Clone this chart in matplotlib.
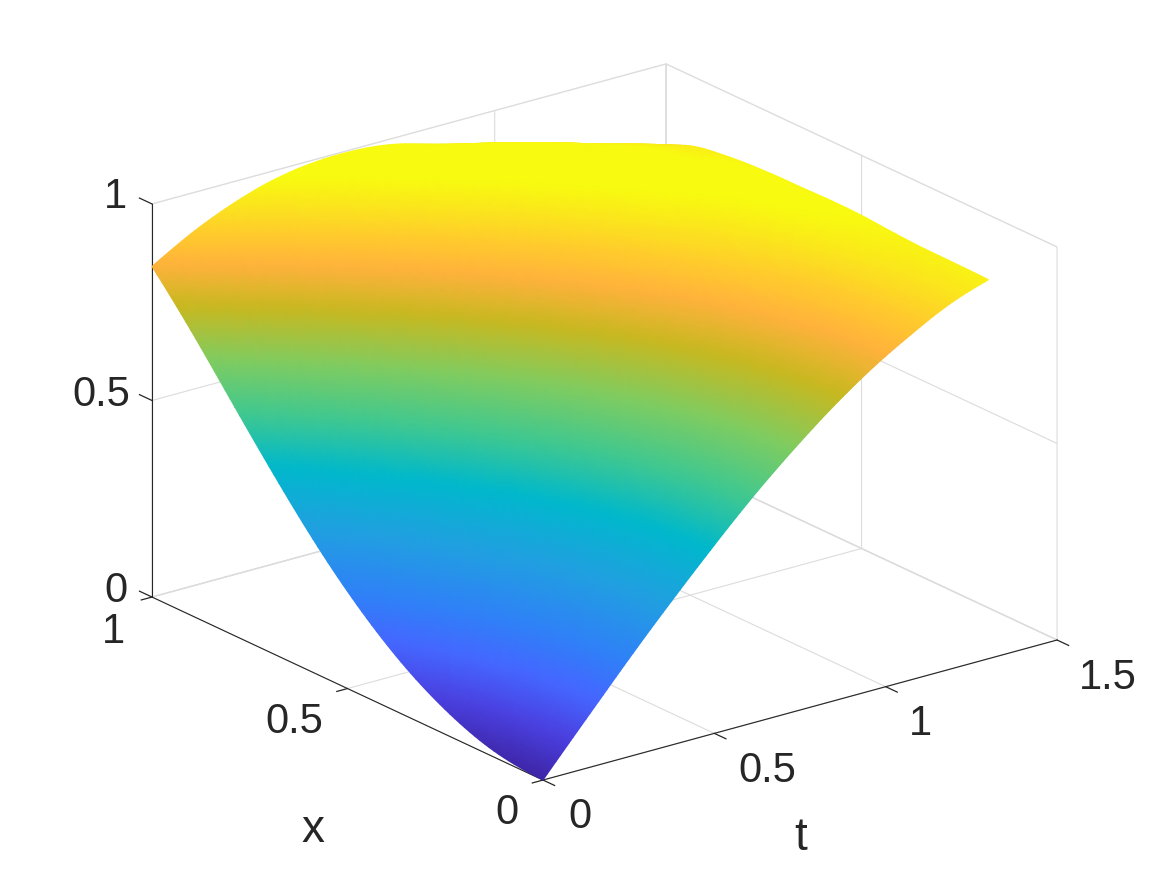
import numpy as np
import matplotlib
matplotlib.use("Agg")
import matplotlib.pyplot as plt
from matplotlib.colors import LinearSegmentedColormap
from matplotlib.tri import Triangulation, UniformTriRefiner, CubicTriInterpolator
from mpl_toolkits.mplot3d import proj3d

plt.rcParams['font.family'] = ['Liberation Sans', 'DejaVu Sans']

# values
t_vals = [0, .1, .2, .3, .4, .5, .6, .7, .8, .9, 1.0, 1.1, 1.2, 1.3]
x_vals = [0, .1, .2, .3, .4, .5, .6, .7, .8, .9, 1.0]
u_vals = [
    [.000, .100, .199, .296, .389, .479, .565, .644, .717, .783, .841, .891, .934, .964],
    [.010, .110, .208, .305, .398, .488, .573, .652, .724, .790, .846, .896, .938, .966],
    [.040, .140, .238, .333, .426, .514, .597, .674, .745, .808, .862, .909, .948, .968],
    [.090, .189, .286, .380, .471, .556, .637, .710, .777, .836, .887, .928, .963, .975],
    [.159, .257, .352, .444, .531, .613, .689, .758, .819, .872, .917, .952, .978, .978],
    [.247, .343, .435, .523, .605, .682, .751, .813, .867, .913, .949, .973, .988, .976],
    [.352, .444, .531, .613, .689, .758, .819, .872, .917, .952, .978, .990, .990, .973],
    [.471, .556, .637, .710, .777, .836, .887, .928, .961, .984, .995, .995, .978, .963],
    [.597, .674, .745, .808, .862, .909, .946, .973, .991, .998, .995, .980, .960, .933],
    [.724, .790, .847, .896, .936, .966, .987, .996, .995, .985, .965, .935, .895, .850],
    [.841, .891, .932, .964, .985, .995, .995, .985, .962, .935, .905, .863, .808, .746],
]
t_ticks = [0, .5, 1, 1.5]
x_ticks = [0, .5, 1]
u_ticks = [0, .5, 1]
t_labels = ["0", "0.5", "1", "1.5"]
x_labels = ["0", "0.5", "1"]
u_labels = ["0", "0.5", "1"]

cmap = LinearSegmentedColormap.from_list("surf", [
    (0.00, "#3e26a8"), (0.08, "#4a40e0"), (0.16, "#4566ff"), (0.24, "#3080f8"),
    (0.36, "#20a0e0"), (0.47, "#00b8cc"), (0.57, "#40c890"), (0.67, "#80cc60"),
    (0.77, "#c8b820"), (0.845, "#ffb23c"), (0.90, "#ffcc2c"), (0.98, "#f8fa10"),
    (1.00, "#f8fa10"),
])

dark = "#262626"
light = "#dcdcdc"

fig = plt.figure(figsize=(11.67, 8.75), dpi=100)
ax = fig.add_axes([9.2 / 1167, 3.7 / 875, 1, 1], projection='3d', proj_type='ortho')
ax.view_init(elev=20.92, azim=-127.34)
ax.set_box_aspect((646.5, 644.6, 420.8), zoom=1.1154)
ax.set_xlim(0, 1.5)
ax.set_ylim(0, 1)
ax.set_zlim(0, 1)

ax.set_xticks(t_ticks, [""] * len(t_ticks))
ax.set_yticks(x_ticks, [""] * len(x_ticks))
ax.set_zticks(u_ticks, [""] * len(u_ticks))
ax.zaxis._get_tickdir = lambda position: 1
ax.tick_params(color=dark, width=0.9)

for axis, out in zip((ax.xaxis, ax.yaxis, ax.zaxis), (-0.37, -0.26, 0.4)):
    axis.pane.set_facecolor((1, 1, 1, 0))
    axis.pane.set_edgecolor(light)
    axis.line.set_color(dark)
    axis.line.set_linewidth(0.8)
    axis._axinfo['grid'].update(color=light, linewidth=0.8)
    axis._axinfo['tick'].update(inward_factor=0.0, outward_factor=out,
                                linewidth={True: 0.9, False: 0.9})

# smooth surface: projected with the 3d axes, drawn on a 2d overlay in pixels
fig.canvas.draw()
T, X = np.meshgrid(t_vals, x_vals)
U = np.array(u_vals)
nr, nc = U.shape
tris = []
for i in range(nr - 1):
    for j in range(nc - 1):
        a, b, c, d = i * nc + j, i * nc + j + 1, (i + 1) * nc + j, (i + 1) * nc + j + 1
        tris += [[a, b, d], [a, d, c]]
base = Triangulation(T.ravel(), X.ravel(), np.array(tris))
fine, u_fine = UniformTriRefiner(base).refine_field(U.ravel(), CubicTriInterpolator(base, U.ravel()), subdiv=3)

xp, yp, zp = proj3d.proj_transform(fine.x, fine.y, u_fine, ax.get_proj())
pix = ax.transData.transform(np.column_stack([xp, yp]))
order = np.argsort(-zp[fine.triangles].mean(axis=1))

over = fig.add_axes([0, 0, 1, 1])
over.set_xlim(0, 1167)
over.set_ylim(875, 0)
over.axis('off')
pix_y = 875 - pix[:, 1]
over.tripcolor(Triangulation(pix[:, 0], pix_y, fine.triangles[order]), u_fine, shading='gouraud',
               cmap=cmap, vmin=0, vmax=1)

# tick and axis labels, centres as read in the picture
for s, px, py in zip(u_labels, [116, 101, 115], [591.5, 395, 197]):
    over.text(px, py, s, fontsize=30, color=dark, ha='center', va='center')
for s, px, py in zip(x_labels, [507, 294, 113], [813.5, 722, 632]):
    over.text(px, py, s, fontsize=30, color=dark, ha='center', va='center')
for s, px, py in zip(t_labels, [579.5, 767, 920, 1108], [817, 771, 724, 678]):
    over.text(px, py, s, fontsize=30, color=dark, ha='center', va='center')
over.text(313, 830, "x", fontsize=33, color=dark, ha='center', va='center')
over.text(801, 838, "t", fontsize=33, color=dark, ha='center', va='center')

fig.savefig("out.png", dpi=100)
